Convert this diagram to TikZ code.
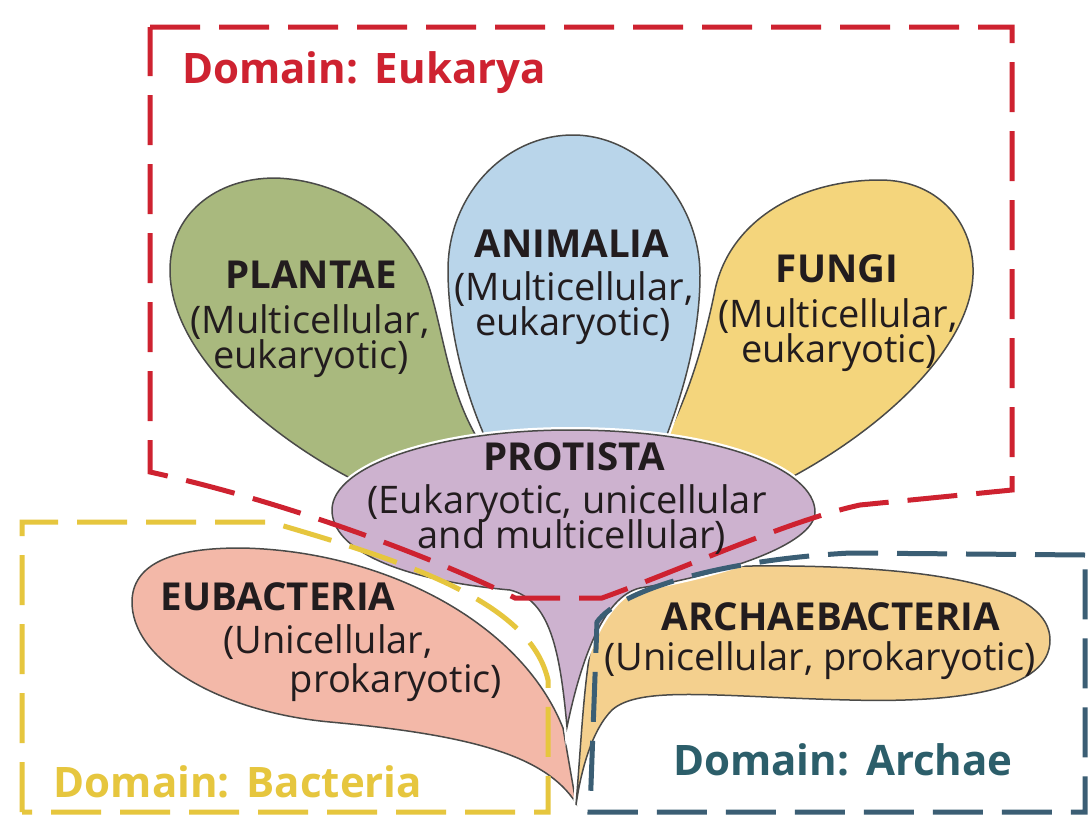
\documentclass[tikz,border=0pt]{standalone}
\usepackage{fontspec}
\setmainfont{Open Sans}
\definecolor{cPlant}{HTML}{A9B97E}
\definecolor{cAnim}{HTML}{B9D5EA}
\definecolor{cFung}{HTML}{F4D57C}
\definecolor{cProt}{HTML}{CDB2CF}
\definecolor{cEub}{HTML}{F3B8A8}
\definecolor{cArch}{HTML}{F4D08E}
\definecolor{cLine}{HTML}{4A4A48}
\definecolor{cTxt}{HTML}{221C1E}
\definecolor{cRed}{HTML}{CE2230}
\definecolor{cYel}{HTML}{E6C63E}
\definecolor{cBlu}{HTML}{3B5E74}
\definecolor{cArchTxt}{HTML}{2C5E6A}
\tikzset{
  petal/.style={draw=cLine, line width=1.5pt, preaction={draw=white, line width=6pt}},
  ttl/.style={font=\fontsize{38.5}{42}\selectfont\bfseries, text=cTxt, inner sep=0pt, anchor=base},
  sub/.style={font=\fontsize{38}{42}\selectfont, text=cTxt, inner sep=0pt, anchor=base},
  dom/.style={font=\fontsize{42}{46}\selectfont\bfseries, inner sep=0pt, anchor=base},
  dbox/.style={line width=5pt, dash pattern=on 50pt off 19pt, line join=miter}
}
\begin{document}
\begin{tikzpicture}[x=1pt,y=-1pt]
\useasboundingbox (0,0) rectangle (1088,825);
\fill[white] (0,0) rectangle (1088,825);

% Plantae
\filldraw[petal, fill=cPlant] (275,178) .. controls (345,180) and (410,225) .. (430,290)
  .. controls (445,340) and (450,400) .. (485,450) -- (470,520) -- (400,520) -- (350,478)
  .. controls (260,430) and (170,350) .. (170,270)
  .. controls (170,215) and (215,178) .. (275,178) -- cycle;
% Fungi
\filldraw[petal, fill=cFung] (880,180) .. controls (940,180) and (975,225) .. (973,275)
  .. controls (970,350) and (880,430) .. (790,478) -- (700,510) -- (650,470) -- (670,430)
  .. controls (690,390) and (705,340) .. (715,290)
  .. controls (730,220) and (800,180) .. (880,180) -- cycle;
% Animalia
\filldraw[petal, fill=cAnim] (573,135) .. controls (640,135) and (700,200) .. (700,275)
  .. controls (700,340) and (680,400) .. (665,440) -- (650,480) -- (500,480) -- (482,430)
  .. controls (465,390) and (448,330) .. (448,270)
  .. controls (448,195) and (505,135) .. (573,135) -- cycle;
% Eubacteria
\filldraw[petal, fill=cEub] (576,803) .. controls (545,755) and (470,735) .. (330,722)
  .. controls (220,712) and (130,660) .. (132,600)
  .. controls (134,560) and (180,548) .. (240,548)
  .. controls (380,550) and (520,620) .. (563,728) -- cycle;
% Archaebacteria
\filldraw[petal, fill=cArch] (576,805) .. controls (583,720) and (585,640) .. (605,598)
  .. controls (630,570) and (700,565) .. (790,566)
  .. controls (950,568) and (1050,590) .. (1050,640)
  .. controls (1050,690) and (960,703) .. (850,700)
  .. controls (720,697) and (640,685) .. (612,710)
  .. controls (592,730) and (581,770) .. (576,805) -- cycle;
% Protista
\filldraw[petal, fill=cProt] (570,430) .. controls (720,430) and (815,470) .. (815,512)
  .. controls (815,545) and (720,575) .. (640,588)
  .. controls (610,595) and (585,640) .. (567,727)
  .. controls (560,650) and (550,600) .. (510,590)
  .. controls (400,580) and (332,550) .. (332,510)
  .. controls (332,465) and (440,430) .. (570,430) -- cycle;

% Domain boxes
\draw[dbox, draw=cYel] (22,812) -- (22,522) -- (270,522)
  .. controls (400,560) and (530,600) .. (548,680) -- (548,812) -- cycle;
\draw[dbox, draw=cBlu] (1085,555) -- (850,553)
  .. controls (720,560) and (620,590) .. (597,622) -- (590,812) -- (1085,812) -- cycle;
\draw[dbox, draw=cRed] (150,27) -- (1012,27) -- (1012,490) -- (860,505)
  .. controls (790,520) and (680,570) .. (602,598) -- (515,598)
  .. controls (450,565) and (300,505) .. (150,472) -- cycle;

% Texts
\node[ttl] (pt) at (311,288) {PLANTAE};
\node[sub] (p1) at (310,333) {(Multicellular,};
\node[sub] (p2) at (311,368) {eukaryotic)};
\node[ttl] (at) at (572,257) {ANIMALIA};
\node[sub] (a1) at (574,300) {(Multicellular,};
\node[sub] (a2) at (573,335) {eukaryotic)};
\node[ttl] (ft) at (837,282) {FUNGI};
\node[sub] (f1) at (838,327) {(Multicellular,};
\node[sub] (f2) at (839,362) {eukaryotic)};
\node[ttl] (prt) at (574,470) {PROTISTA};
\node[sub] (pr1) at (567,513) {(Eukaryotic, unicellular};
\node[sub] (pr2) at (572,548) {and multicellular)};
\node[ttl] (et) at (278,610) {EUBACTERIA};
\node[sub] (e1) at (328,653) {(Unicellular,};
\node[sub] (e2) at (396,692) {prokaryotic)};
\node[ttl] (art) at (831,630) {ARCHAEBACTERIA};
\node[sub] (ar1) at (820,670) {(Unicellular, prokaryotic)};

\node[dom, text=cRed] (de) at (364,83) {Domain:\hspace{0.4em}Eukarya};
\node[dom, text=cYel] (db) at (238,797) {Domain:\hspace{0.4em}Bacteria};
\node[dom, text=cArchTxt] (da) at (843,775) {Domain:\hspace{0.4em}Archae};
\end{tikzpicture}
\end{document}
